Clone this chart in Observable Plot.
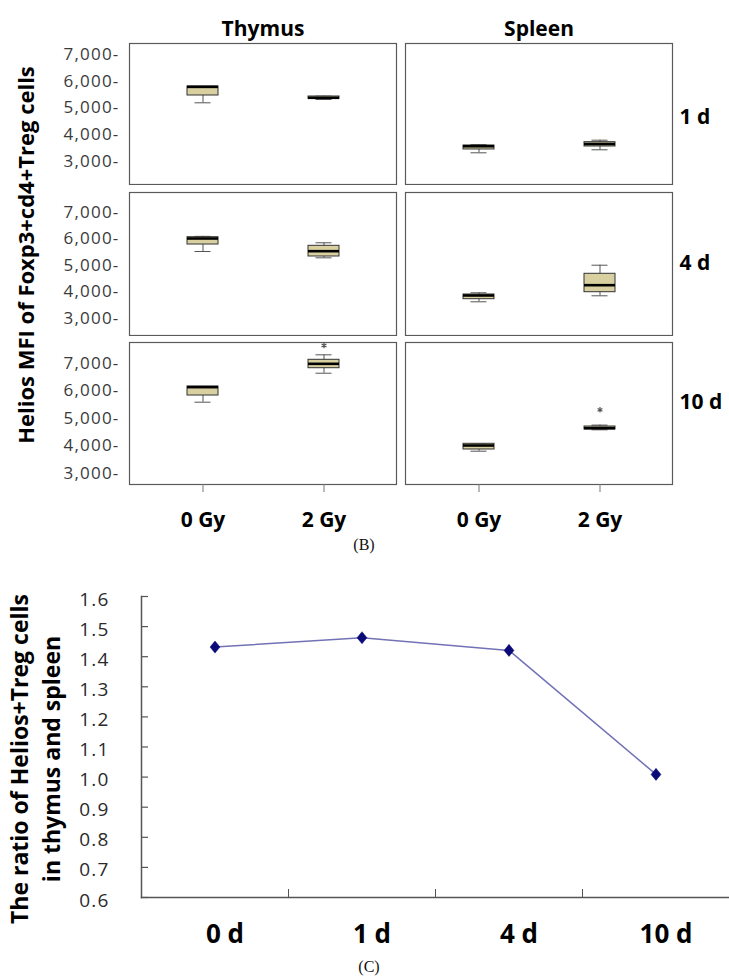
<!DOCTYPE html>
<html><head><meta charset="utf-8">
<script src="https://cdn.jsdelivr.net/npm/d3@7"></script>
<script src="https://cdn.jsdelivr.net/npm/@observablehq/plot@0.6"></script>
<style>
body{margin:0;background:#fff;}
#root{position:relative;width:729px;height:977px;overflow:hidden;font-family:"Open Sans",sans-serif;background:#fff;}
g[aria-label="y-axis tick label"] text{letter-spacing:1.2px;}
.cap{position:absolute;font-family:"Liberation Serif","Times New Roman",serif;font-size:16px;color:#111;transform:translate(-50%,-50%);}
.vt{position:absolute;font-family:"Open Sans",sans-serif;font-weight:bold;color:#000;white-space:nowrap;text-align:center;transform:translate(-50%,-50%) rotate(-90deg);}
</style></head><body><div id="root"></div>
<script>
// ---------- Data: panel (B) box summaries ----------
const tissues = ["Thymus", "Spleen"];
const doses = ["0 Gy", "2 Gy"];
const days = ["1 d", "4 d", "10 d"];
const yTickValues = [3000, 4000, 5000, 6000, 7000];

const boxDay    = ["1 d","1 d","1 d","1 d","4 d","4 d","4 d","4 d","10 d","10 d","10 d","10 d"];
const boxTissue = ["Thymus","Thymus","Spleen","Spleen","Thymus","Thymus","Spleen","Spleen","Thymus","Thymus","Spleen","Spleen"];
const boxDose   = ["0 Gy","2 Gy","0 Gy","2 Gy","0 Gy","2 Gy","0 Gy","2 Gy","0 Gy","2 Gy","0 Gy","2 Gy"];
const boxMin    = [5194, 5318, 3325, 3437, 5528, 5290, 3630, 3857, 5593, 6647, 3811, 4589];
const boxQ1     = [5467, 5340, 3449, 3561, 5792, 5340, 3728, 3992, 5836, 6829, 3873, 4600];
const boxMed    = [5790, 5381, 3570, 3654, 6019, 5540, 3868, 4257, 6140, 6988, 4018, 4650];
const boxQ3     = [5804, 5430, 3598, 3722, 6068, 5743, 3906, 4687, 6164, 7135, 4080, 4709];
const boxMax    = [5804, 5441, 3630, 3796, 6100, 5857, 3970, 5011, 6164, 7316, 4090, 4760];

const outDay    = ["10 d", "10 d"];
const outTissue = ["Thymus", "Spleen"];
const outDose   = ["2 Gy", "2 Gy"];
const outValue  = [7655, 5316];

// ---------- Data: panel (C) ratio line ----------
const timepoints = ["0 d", "1 d", "4 d", "10 d"];
const ratio = [1.432, 1.463, 1.421, 1.009];
const ratioTicks = [0.6, 0.7, 0.8, 0.9, 1.0, 1.1, 1.2, 1.3, 1.4, 1.5, 1.6];

// ---------- Build tables ----------
const boxes = boxDay.map((d, i) => ({day: d, tissue: boxTissue[i], dose: boxDose[i],
  min: boxMin[i], q1: boxQ1[i], med: boxMed[i], q3: boxQ3[i], max: boxMax[i]}));
const outliers = outDay.map((d, i) => ({day: d, tissue: outTissue[i], dose: outDose[i], value: outValue[i]}));
const ratioData = timepoints.map((t, i) => ({t, r: ratio[i]}));

const root = document.getElementById("root");
function place(el, top, left) {
  el.style.position = "absolute"; el.style.top = top + "px"; el.style.left = (left || 0) + "px";
  root.appendChild(el);
}
function addDiv(cls, html, x, y, extra) {
  const d = document.createElement("div");
  d.className = cls; d.innerHTML = html;
  d.style.left = x + "px"; d.style.top = y + "px";
  Object.assign(d.style, extra || {});
  root.appendChild(d);
}

// ---------- Layout for panel (B) rows ----------
const panelTop = [43, 192, 342];
const panelBottom = [184, 335, 484];
const rowDomain = [[2140, 7411], [2358, 7755], [2600, 7764]];
const rowLabelDy = [3, -1, -11];
const FONT = "'Open Sans', sans-serif";

days.forEach((day, i) => {
  const mt = i === 0 ? 43 : 1;
  const mb = i === 2 ? 60 : 1;
  const h = mt + (panelBottom[i] - panelTop[i]) + mb;
  const rowBoxes = boxes.filter(b => b.day === day);
  const rowOut = outliers.filter(o => o.day === day);
  const marks = [
    Plot.frame({stroke: "#5a5a5a", strokeWidth: 1.2}),
    Plot.axisY(yTickValues, {anchor: "left", tickSize: 0, tickPadding: 10, fontSize: 17, fill: "#3a3a3a",
      tickFormat: d => d3.format(",")(d) + "-", label: null}),
    Plot.axisFy({anchor: "right", tickSize: 0, tickPadding: 7, fontSize: 21, fontWeight: "bold", fill: "#000",
      dy: rowLabelDy[i], label: null}),
    Plot.ruleX(rowBoxes, {fx: "tissue", fy: "day", x: "dose", y1: "min", y2: "max", stroke: "#555", strokeWidth: 1}),
    Plot.tickY(rowBoxes, {fx: "tissue", fy: "day", x: "dose", y: "min", insetLeft: 7.5, insetRight: 7.5, stroke: "#555"}),
    Plot.tickY(rowBoxes, {fx: "tissue", fy: "day", x: "dose", y: "max", insetLeft: 7.5, insetRight: 7.5, stroke: "#555"}),
    Plot.barY(rowBoxes, {fx: "tissue", fy: "day", x: "dose", y1: "q1", y2: "q3", fill: "#d8d0a0", stroke: "#333", strokeWidth: 1}),
    Plot.tickY(rowBoxes, {fx: "tissue", fy: "day", x: "dose", y: "med", stroke: "#000", strokeWidth: 2.6}),
    Plot.dot(rowOut, {fx: "tissue", fy: "day", x: "dose", y: "value", symbol: "asterisk", r: 2.6, stroke: "#555", strokeWidth: 1.2})
  ];
  if (i === 0) marks.push(Plot.axisFx({anchor: "top", tickSize: 0, tickPadding: 8, fontSize: 21, fontWeight: "bold", fill: "#000", label: null}));
  if (i === 2) marks.push(Plot.axisX({anchor: "bottom", tickSize: 8, tickPadding: 20, fontSize: 21, fontWeight: "bold", fill: "#000", stroke: "#777", label: null}));
  const chart = Plot.plot({
    width: 729, height: h,
    marginTop: mt, marginBottom: mb, marginLeft: 129, marginRight: 56,
    style: {fontFamily: FONT, background: "transparent", color: "#000"},
    fx: {domain: tissues, paddingInner: 0.0325, paddingOuter: 0, axis: i === 0 ? undefined : null},
    fy: {domain: [day], padding: 0},
    x: {type: "band", domain: doses, paddingInner: 0.746, paddingOuter: 0.47, axis: i === 2 ? undefined : null},
    y: {domain: rowDomain[i]},
    marks
  });
  place(chart, panelTop[i] - mt, 0);
});

// ---------- Panel (C) ----------
const diamond = {
  draw(context, size) {
    const a = Math.sqrt(size);
    const hy = a * 0.85, hx = a * 0.7;
    context.moveTo(0, -hy); context.lineTo(hx, 0); context.lineTo(0, hy); context.lineTo(-hx, 0); context.closePath();
  }
};
const lineChart = Plot.plot({
  width: 729, height: 397,
  marginTop: 36, marginBottom: 60, marginLeft: 141, marginRight: 0,
  style: {fontFamily: FONT, background: "transparent", color: "#000"},
  x: {type: "band", domain: timepoints, paddingInner: 0, paddingOuter: 0},
  y: {domain: [0.6, 1.6]},
  marks: [
    Plot.frame({anchor: "left", stroke: "#555", strokeWidth: 1.5}),
    Plot.frame({anchor: "bottom", stroke: "#555", strokeWidth: 1.5}),
    Plot.tickY(ratioTicks, {y: d => d, x: () => timepoints[0], insetRight: 140, stroke: "#555", strokeWidth: 1.2}),
    Plot.axisY(ratioTicks, {anchor: "left", tickSize: 0, tickPadding: 32, dy: 3, fontSize: 19, fill: "#2a2a2a", tickFormat: ".1f", label: null}),
    Plot.axisX(timepoints.slice(1), {anchor: "bottom", tickSize: -8, dx: -73.5, tickFormat: () => "", stroke: "#555", label: null}),
    Plot.axisX(timepoints, {anchor: "bottom", tickSize: 0, tickPadding: 27, dx: 10, fontSize: 26, fontWeight: "bold", fill: "#000", label: null}),
    Plot.line(ratioData, {x: "t", y: "r", stroke: "#7272b6", strokeWidth: 1.5}),
    Plot.dot(ratioData, {x: "t", y: "r", symbol: diamond, r: 4, fill: "#0a0a78", stroke: "#0a0a78", strokeWidth: 0.5})
  ]
});
place(lineChart, 560, 0);

// ---------- Titles & captions ----------
addDiv("vt", "Helios MFI of Foxp3+cd4+Treg cells", 25, 255, {fontSize: "22px", lineHeight: "28px"});
addDiv("vt", "The ratio of Helios+Treg cells<br>in thymus and spleen", 35, 759, {fontSize: "23px", lineHeight: "31.5px"});
addDiv("cap", "(B)", 364, 545);
addDiv("cap", "(C)", 369, 967);
</script></body></html>
